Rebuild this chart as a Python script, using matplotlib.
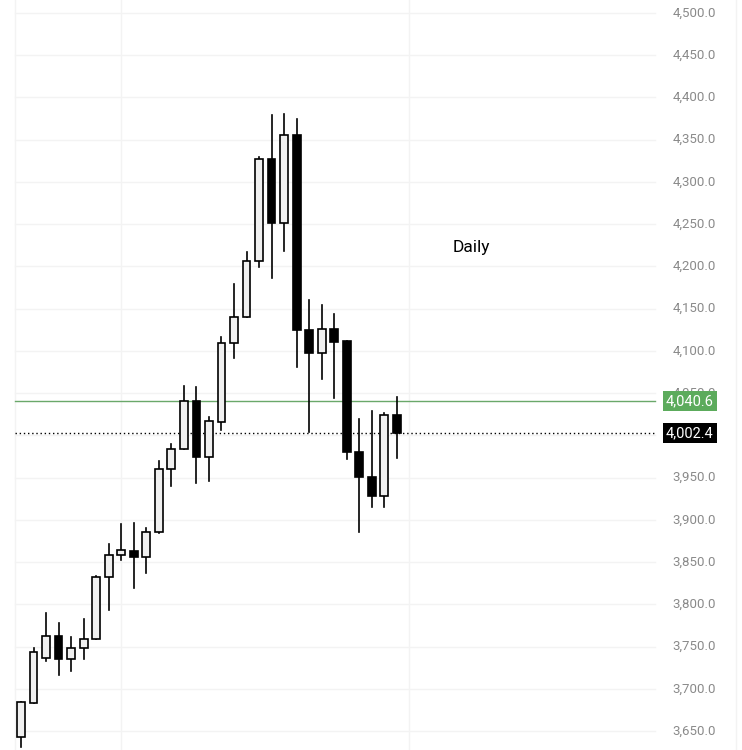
import matplotlib
matplotlib.use("Agg")
import matplotlib.pyplot as plt

opens  = [3643.4,3683.6,3736.2,3763.0,3735.0,3748.0,3759.0,3832.0,3858.3,3863.5,3855.7,3885.3,3960.0,3983.5,4040.4,
          3975.0,4016.0,4108.8,4140.5,4206.0,4326.8,4251.0,4355.5,4124.8,4097.2,4125.6,4111.7,3980.0,3950.4,3928.6,4023.8]
closes = [3684.1,3744.0,3763.0,3735.0,3748.0,3758.6,3832.0,3858.5,3864.0,3855.7,3885.3,3960.0,3983.5,4040.4,3975.0,
          4016.7,4108.8,4140.5,4206.0,4326.8,4251.0,4355.5,4124.4,4097.2,4125.6,4111.0,3980.0,3950.4,3928.6,4023.8,4002.4]
highs  = [3684.5,3748.0,3789.4,3777.6,3761.0,3782.7,3833.6,3871.5,3895.0,3896.0,3890.0,3970.0,3989.5,4058.5,4057.7,
          4022.0,4116.0,4179.0,4216.7,4329.0,4379.0,4381.0,4374.0,4160.3,4154.4,4143.7,4111.7,4019.4,4028.9,4026.0,4045.0]
lows   = [3631.6,3683.0,3733.0,3716.0,3721.0,3735.0,3759.0,3793.0,3852.0,3819.0,3837.5,3884.0,3940.0,3983.5,3944.0,
          3946.4,4006.4,4091.3,4140.0,4199.7,4186.7,4218.6,4080.6,4004.4,4066.4,4044.0,3971.7,3886.0,3915.6,3915.0,3972.8]
yticks = [3650,3700,3750,3800,3850,3900,3950,4000,4050,4100,4150,4200,4250,4300,4350,4400,4450,4500]
level_green = 4040.6
last_price = 4002.4

fig = plt.figure(figsize=(7.42,7.5), dpi=100)
ax = fig.add_axes([0,0,1,1])
ax.set_xlim(-1.676, 57.54)
ax.set_ylim(3627.6, 4515.4)
ax.axis('off')

def xpix(px):  # pixel -> data x
    return -1.676 + px/742*(57.54+1.676)

for t in yticks:
    ax.plot([xpix(15), xpix(655)], [t, t], color='#f3f3f3', lw=1, zorder=0)
    ax.text(xpix(694), t, f"{t:,.1f}", ha='center', va='center', color='#8a8a8a', fontsize=9.5, family='Roboto', zorder=1)
for px in [15, 121, 409, 736]:
    ax.axvline(xpix(px), color='#f3f3f3', lw=1, zorder=0)

w = 0.62
for i,(o,c,h,l) in enumerate(zip(opens,closes,highs,lows)):
    ax.plot([i,i],[l,h], color='black', lw=1.2, zorder=2)
    up = c >= o
    ax.bar(i, abs(c-o) if abs(c-o)>1 else 1, bottom=min(o,c), width=w,
           color='#f0f0f0' if up else 'black', edgecolor='black', linewidth=1.2, zorder=3)

ax.plot([xpix(15), xpix(655)], [level_green]*2, color='#6aa86a', lw=1, zorder=1)
ax.plot([xpix(15), xpix(655)], [last_price]*2, color='black', lw=1, ls=(0,(1,2)), zorder=1)
ax.text(xpix(690), level_green, f"{level_green:,.1f}", ha='center', va='center', color='white', fontsize=10.5, family='Roboto',
        zorder=5, bbox=dict(boxstyle='square,pad=0.2', fc='#5cab5c', ec='none'))
ax.text(xpix(690), last_price, f"{last_price:,.1f}", ha='center', va='center', color='white', fontsize=10.5, family='Roboto',
        zorder=5, bbox=dict(boxstyle='square,pad=0.2', fc='black', ec='none'))
ax.text(xpix(471), 4500-(247-13)*50/42.24, "Daily", ha='center', va='center', fontsize=12.5, family='Roboto')

fig.savefig("out.png", dpi=100)
